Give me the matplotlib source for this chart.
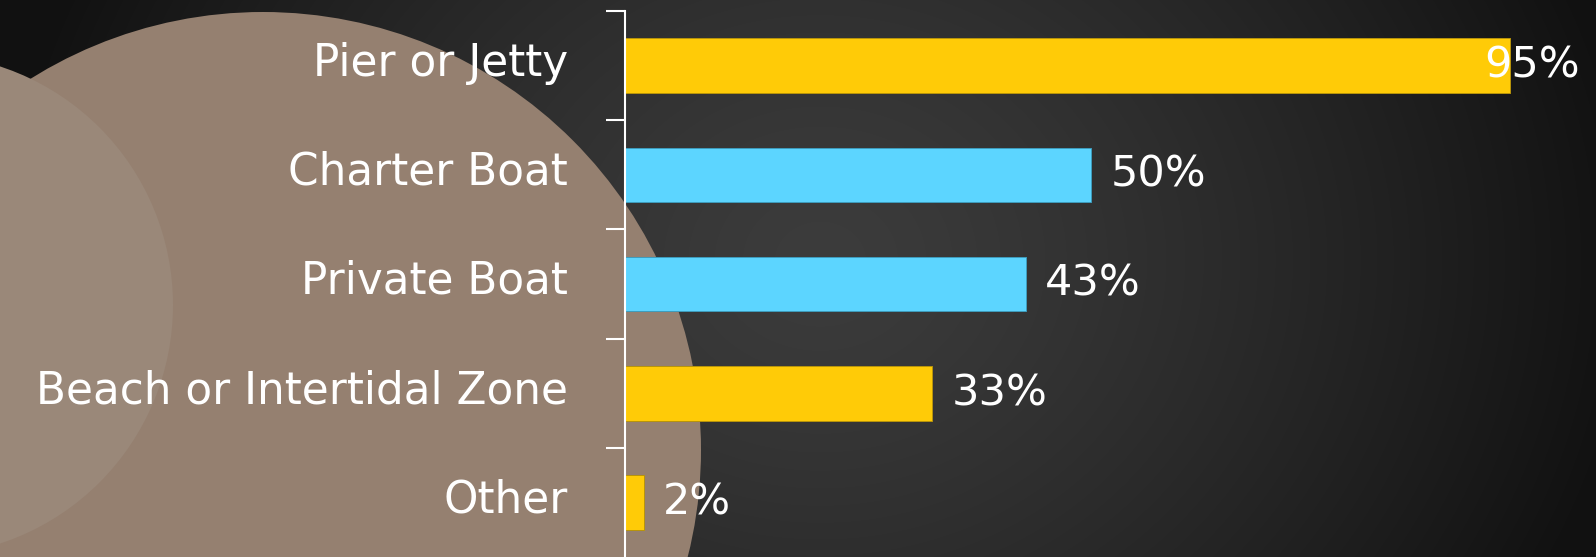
import numpy as np
import matplotlib.pyplot as plt
import matplotlib.transforms as mtransforms
from matplotlib.patches import Circle

# survey answers, top to bottom
categories = ["Pier or Jetty", "Charter Boat", "Private Boat",
              "Beach or Intertidal Zone", "Other"]
values = [95, 50, 43, 33, 2]
bar_colors = ["#FFCB07", "#5CD5FF", "#5CD5FF", "#FFCB07", "#FFCB07"]
edge_colors = ["#B8940A", "#3E9CBD", "#3E9CBD", "#B8940A", "#B8940A"]

W, H = 1596, 557
fig = plt.figure(figsize=(W / 100, H / 100), dpi=100)

# dark backdrop with a soft glow, in pixel coordinates
bg = fig.add_axes([0, 0, 1, 1])
bg.set_xlim(0, W)
bg.set_ylim(H, 0)
bg.axis("off")
yy, xx = np.mgrid[0:H, 0:W]
d = np.hypot((xx - 820) / 820, (yy - 260) / 700)
lum = np.clip(60 - 43 * d ** 1.3, 17, 60) / 255
bg.imshow(np.dstack([lum, lum, lum]), extent=(0, W, H, 0), aspect="auto", zorder=0)

# decorative circles on the left
bg.add_patch(Circle((263, 450), 438, color="#958070", lw=0, zorder=1))
bg.add_patch(Circle((-78, 305), 251, color="#9A8879", lw=0, zorder=2))

ax = fig.add_axes([625 / W, 0, 955 / W, 546 / H])
ax.patch.set_alpha(0)
y = np.arange(len(categories))
bars = ax.barh(y, values, height=0.5, color=bar_colors,
               edgecolor=edge_colors, linewidth=0.7)
ax.set_ylim(len(categories) - 0.5, -0.5)
ax.set_xlim(0, 102.5)

ax.set_yticks(y)
ax.set_yticklabels(categories)
ax.set_yticks(np.arange(len(categories)) - 0.5, minor=True)
ax.tick_params(axis="y", which="major", length=0, pad=41, labelsize=31.5,
               labelcolor="white")
ax.tick_params(axis="y", which="minor", length=13.7, width=1.5, color="white")
ax.set_xticks([])
for side in ["top", "right", "bottom"]:
    ax.spines[side].set_visible(False)
ax.spines["left"].set_color("white")
ax.spines["left"].set_linewidth(1.5)

# category names sit a little above the bar centres
lift = mtransforms.ScaledTranslation(0, 0.07, fig.dpi_scale_trans)
for lbl in ax.get_yticklabels():
    lbl.set_transform(lbl.get_transform() + lift)

fig.canvas.draw()
renderer = fig.canvas.get_renderer()
ax_right = ax.get_window_extent().x1
for bar, v in zip(bars, values):
    yc = bar.get_y() + bar.get_height() / 2
    t = ax.annotate(f"{v}%", (v, yc), xytext=(14, 0), textcoords="offset points",
                    ha="left", va="center", color="white", fontsize=31)
    # keep the label inside the plot area
    if t.get_window_extent(renderer).x1 > ax_right:
        t.remove()
        ax.annotate(f"{v}%", (ax.get_xlim()[1], yc), ha="right", va="center",
                    color="white", fontsize=31, annotation_clip=False)

fig.savefig("out.png", dpi=100)
